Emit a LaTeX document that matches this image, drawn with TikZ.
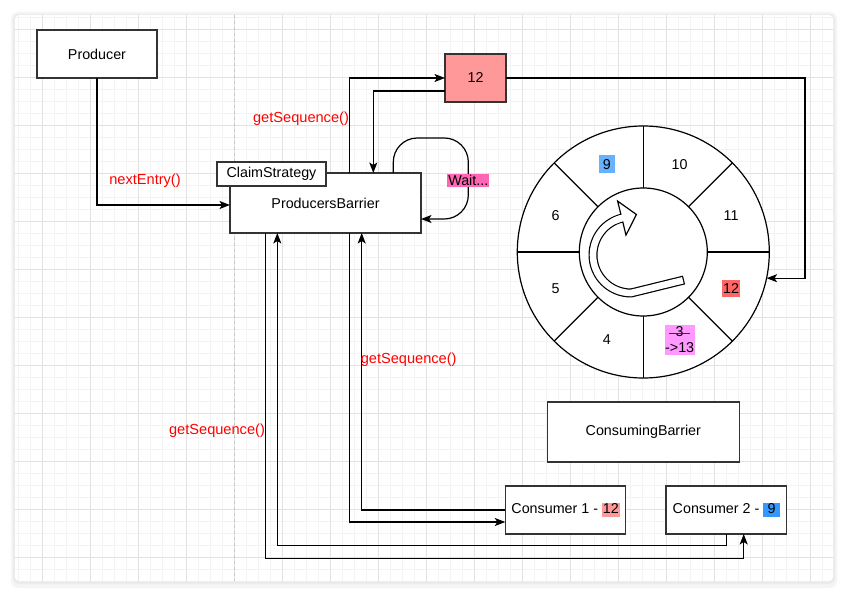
\documentclass[tikz,border=0pt]{standalone}
\usepackage{fontspec}
\setmainfont{Liberation Sans}
\usetikzlibrary{arrows.meta, calc}
\definecolor{boxline}{RGB}{51,51,51}
\definecolor{seqred}{RGB}{255,153,153}
\definecolor{slotred}{RGB}{255,102,102}
\definecolor{slotblue}{RGB}{102,178,255}
\definecolor{consblue}{RGB}{51,153,255}
\definecolor{waitpink}{RGB}{255,102,179}
\definecolor{slotpink}{RGB}{255,153,255}
\definecolor{callred}{RGB}{255,0,0}
\definecolor{gridminor}{RGB}{243,243,243}
\definecolor{gridmajor}{RGB}{226,226,226}
\newcommand{\hilite}[2]{{\setlength{\fboxsep}{0.8pt}\colorbox{#1}{\rule[-2.3pt]{0pt}{11.6pt}#2}}}

\begin{document}
\begin{tikzpicture}[x=1pt, y=-1pt,
    font=\fontsize{14.3}{16.5}\selectfont,
    box/.style={draw=boxline, line width=1.3pt, fill=white, inner sep=0pt, outer sep=0pt},
    link/.style={draw=black, line width=1.2pt, -{Stealth[length=10.5pt, width=8pt, inset=2.5pt]}},
    call/.style={text=callred, inner sep=1pt, font=\fontsize{14.6}{16.5}\selectfont},
    slot/.style={inner sep=0.5pt},
    disc/.style={circle, draw=black, line width=1.2pt, fill=white, inner sep=0pt, outer sep=0pt}]

    % ===== Page with grid =====
    \useasboundingbox (0,0) rectangle (848,596);
    \fill[white] (0,0) rectangle (848,596);
    \fill[black!4, rounded corners=7pt] (11,12) rectangle (837,588);
    \fill[black!8, rounded corners=5pt] (13,14) rectangle (835,584);
    \fill[white, rounded corners=4pt] (15,15) rectangle (833,581);
    \foreach \i in {0,...,67}
        \draw[gridminor, line width=0.8pt] ({18.7+12*\i},15) -- ({18.7+12*\i},581);
    \foreach \i in {0,...,46}
        \draw[gridminor, line width=0.8pt] (15,{17+12*\i}) -- (833,{17+12*\i});
    \foreach \i in {0,...,16}
        \draw[gridmajor, line width=0.8pt] ({42.7+48*\i},15) -- ({42.7+48*\i},581);
    \foreach \i in {0,...,11}
        \draw[gridmajor, line width=0.8pt] (15,{29+48*\i}) -- (833,{29+48*\i});
    \draw[black!22, line width=0.9pt, dash pattern=on 3pt off 3pt] (234.7,15) -- (234.7,581);

    % ===== Boxes =====
    \node[box, minimum width=120pt, minimum height=48pt] (producer) at (97,54) {Producer};
    \node[box, minimum width=191pt, minimum height=60pt] (pbar) at (325.5,203) {ProducersBarrier};
    \node[box, minimum width=109pt, minimum height=24pt] (claim) at (271.5,174) {ClaimStrategy};
    \node[box, fill=seqred, minimum width=61pt, minimum height=48pt] (seq) at (475.5,78) {12};
    \node[box, minimum width=192pt, minimum height=60pt] (cbar) at (643.3,432) {ConsumingBarrier};
    \node[box, minimum width=120.4pt, minimum height=48pt] (cons1) at (565.5,510) {Consumer 1 - \hilite{seqred}{12}};
    \node[box, minimum width=120.7pt, minimum height=48pt] (cons2) at (726.3,510) {Consumer 2 - \hilite{consblue}{\kern3.5pt 9\kern3.5pt}};

    % ===== Ring buffer =====
    \node[disc, minimum size=252pt] (ring) at (643.3,252) {};
    \node[disc, minimum size=128pt] (hub) at (ring.center) {};
    \foreach \a in {0,45,...,315}
        \draw[line width=1.2pt] (hub.\a) -- (ring.\a);
    \foreach \a/\n in {157.5/6, 202.5/5, 247.5/4, 67.5/10, 22.5/11}
        \node[slot] (slot\n) at ($(ring.center)+(\a:95pt)$) {\n};
    \node[slot, fill=slotblue, minimum width=16.6pt, minimum height=17.7pt] (slot9) at ($(ring.center)+(112.5:95pt)$) {9};
    \node[slot, fill=slotred, minimum width=17.3pt, minimum height=17.3pt] (slot12) at ($(ring.center)+(-22.5:95pt)$) {12};
    \node[slot, fill=slotpink, align=center, minimum width=29pt, inner ysep=1.7pt] (slot13) at ($(ring.center)+(-67.5:95pt)$) {3\\->13};
    \draw[boxline, line width=0.9pt] ([xshift=-10.5pt, yshift=-9pt]slot13.north) -- ([xshift=10.5pt, yshift=-9pt]slot13.north);

    % turn arrow in the hub
    \draw[black, line width=9pt, line join=round] (684,280) -- (631,293) arc[start angle=90, end angle=256, radius=38];
    \draw[white, line width=6.6pt, line join=round, shorten <=1.2pt] (684,280) -- (631,293) arc[start angle=90, end angle=256, radius=38];
    \draw[black, line width=1.2pt, fill=white, line join=miter] (617.6,201.1) -- (636.4,214.5) -- (626,235.1) -- cycle;
    \draw[white, line width=6.6pt] (631,255) ++(245:38) arc[start angle=245, end angle=258.5, radius=38];

    % ===== Connectors =====
    \draw[link] (producer.south) |- ([yshift=-2pt]pbar.west);
    \draw[link] ([xshift=119.3pt]pbar.north west) |- (seq.west);
    \draw[link] ([yshift=-13pt]seq.west) -| ([xshift=143.3pt]pbar.north west);
    \draw[link] (seq.east) -- ++(299,0) |- (ring.-12.8);
    \draw[link, rounded corners=24pt] ([xshift=163.3pt]pbar.north west) -- ++(0,-35) -- ++(75,0) |- ([yshift=-16pt]pbar.east);
    \node[fill=waitpink, inner xsep=1pt, inner ysep=1.5pt] (wait) at (468.3,180.5) {Wait...};

    \draw[link] ([xshift=35.7pt]pbar.south west) -- ++(0,325.3) -| ([xshift=17.4pt]cons2.south);
    \draw[link] (cons2.south) -- ++(0,11.7) -| ([xshift=47.3pt]pbar.south west);
    \draw[link] ([xshift=119.3pt]pbar.south west) |- ([yshift=-12pt]cons1.west);
    \draw[link] (cons1.west) -| ([xshift=131.7pt]pbar.south west);

    % ===== Call labels =====
    \node[call] (nextlbl) at (145,181) {nextEntry()};
    \node[call] (seqlbl1) at (301,119) {getSequence()};
    \node[call] (seqlbl2) at (408.7,360) {getSequence()};
    \node[call] (seqlbl3) at (217,431) {getSequence()};

\end{tikzpicture}
\end{document}
